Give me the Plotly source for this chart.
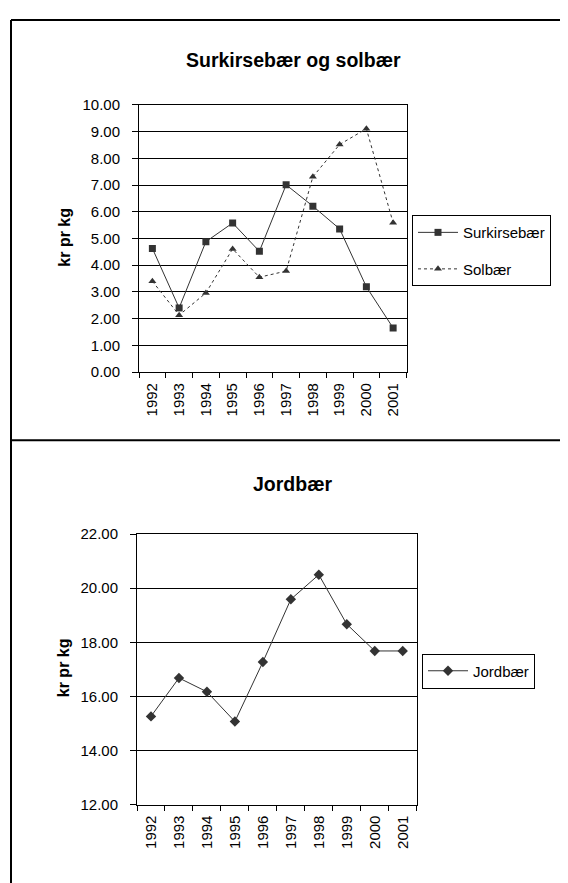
import plotly.graph_objects as go

years = ["1992", "1993", "1994", "1995", "1996", "1997", "1998", "1999", "2000", "2001"]
surkirsebaer = [4.63, 2.40, 4.88, 5.58, 4.52, 7.01, 6.21, 5.36, 3.19, 1.65]
solbaer = [3.40, 2.13, 2.96, 4.61, 3.55, 3.78, 7.31, 8.52, 9.11, 5.59]
jordbaer = [15.26, 16.68, 16.17, 15.07, 17.27, 19.59, 20.50, 18.67, 17.68, 17.68]

title_top = "Surkirsebær og solbær"
title_bottom = "Jordbær"
y_label = "kr pr kg"

W, H = 568, 883
OFF = 8  # default page body margin
FONT = "Liberation Sans, Arial, sans-serif"


def px(x):
    return (x - OFF) / W


def py(y):
    return 1 - (y - OFF) / H


fig = go.Figure()

fig.add_trace(go.Scatter(
    x=years, y=surkirsebaer, name="Surkirsebær", mode="lines+markers",
    line=dict(color="#333333", width=1),
    marker=dict(symbol="square", size=7, color="#333333"),
    xaxis="x", yaxis="y", legend="legend", legendgroup="a",
))
fig.add_trace(go.Scatter(
    x=years, y=solbaer, name="Solbær", mode="lines+markers",
    line=dict(color="#333333", width=1, dash="dot"),
    marker=dict(symbol="triangle-up", size=7, color="#333333"),
    xaxis="x", yaxis="y", legend="legend", legendgroup="b",
))
fig.add_trace(go.Scatter(
    x=years, y=jordbaer, name="Jordbær", mode="lines+markers",
    line=dict(color="#333333", width=1),
    marker=dict(symbol="diamond", size=8, color="#333333"),
    xaxis="x2", yaxis="y2", legend="legend2",
))

axis_common = dict(
    showline=True, linecolor="black", linewidth=1, mirror=True,
    ticks="outside", tickcolor="black", tickwidth=1,
    tickfont=dict(family=FONT, size=15, color="black"),
    zeroline=False,
)

fig.update_layout(
    width=W, height=H,
    margin=dict(l=0, r=0, t=0, b=0),
    paper_bgcolor="white", plot_bgcolor="white",
    font=dict(family=FONT, color="black"),
    xaxis=dict(
        **axis_common, type="category", range=[-0.5, 9.5],
        tickson="boundaries", ticklen=5, tickangle=-90, showgrid=False,
        ticklabelstandoff=4,
        domain=[px(139), px(406.5)], anchor="y",
    ),
    yaxis=dict(
        **axis_common, range=[0, 10], dtick=1, tickformat=".2f", ticklen=6,
        ticklabelstandoff=9,
        showgrid=True, gridcolor="black", gridwidth=1,
        domain=[py(370), py(97.7)], anchor="x",
    ),
    xaxis2=dict(
        **axis_common, type="category", range=[-0.5, 9.5],
        tickson="boundaries", ticklen=5, tickangle=-90, showgrid=False,
        ticklabelstandoff=4,
        domain=[px(137), px(416.7)], anchor="y2",
    ),
    yaxis2=dict(
        **axis_common, range=[12, 22], dtick=2, tickformat=".2f", ticklen=6,
        ticklabelstandoff=9,
        showgrid=True, gridcolor="black", gridwidth=1,
        domain=[py(811), py(535.3)], anchor="x2",
    ),
    legend=dict(
        x=px(412), y=py(210), xanchor="left", yanchor="top",
        bordercolor="black", borderwidth=1, bgcolor="white",
        font=dict(family=FONT, size=15, color="black"),
        tracegroupgap=14, itemwidth=40,
    ),
    legend2=dict(
        x=px(422), y=py(657), xanchor="left", yanchor="top",
        bordercolor="black", borderwidth=1, bgcolor="white",
        font=dict(family=FONT, size=15, color="black"),
        itemwidth=40,
    ),
    showlegend=True,
)

annotations = [
    dict(text="<b>%s</b>" % title_top, x=px(293), y=py(52), xref="paper", yref="paper",
         showarrow=False, font=dict(family=FONT, size=19.5, color="black"),
         xanchor="center", yanchor="middle"),
    dict(text="<b>%s</b>" % title_bottom, x=px(293), y=py(484), xref="paper", yref="paper",
         showarrow=False, font=dict(family=FONT, size=19.5, color="black"),
         xanchor="center", yanchor="middle"),
    dict(text="<b>%s</b>" % y_label, x=px(65), y=py(233), xref="paper", yref="paper",
         showarrow=False, textangle=-90, font=dict(family=FONT, size=16, color="black"),
         xanchor="center", yanchor="middle"),
    dict(text="<b>%s</b>" % y_label, x=px(63), y=py(672), xref="paper", yref="paper",
         showarrow=False, textangle=-90, font=dict(family=FONT, size=16, color="black"),
         xanchor="center", yanchor="middle"),
]
fig.update_layout(annotations=annotations)

shapes = [
    dict(type="line", xref="paper", yref="paper", x0=px(11), x1=1, y0=py(11), y1=py(11),
         line=dict(color="black", width=2)),
    dict(type="line", xref="paper", yref="paper", x0=px(11), x1=px(11), y0=py(11), y1=0,
         line=dict(color="black", width=2)),
    dict(type="line", xref="paper", yref="paper", x0=px(11), x1=1, y0=py(439.5), y1=py(439.5),
         line=dict(color="black", width=2)),
]
fig.update_layout(shapes=shapes)

fig.write_html("out.html", config={"displayModeBar": False})
